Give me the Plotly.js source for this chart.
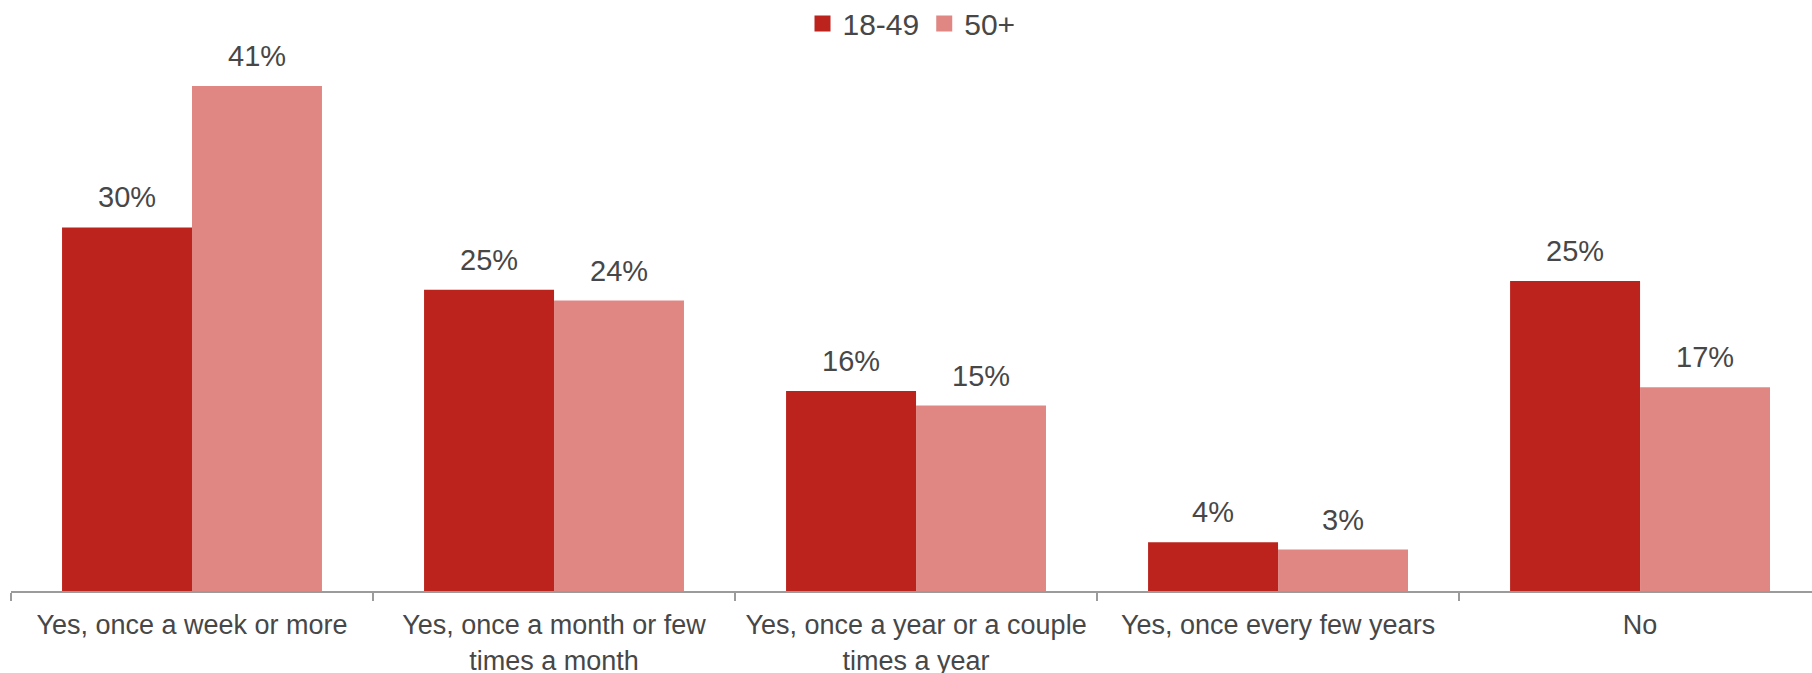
<!DOCTYPE html>
<html>
<head>
<meta charset="utf-8">
<script src="https://cdn.plot.ly/plotly-3.0.1.min.js"></script>
<style>html,body{margin:0;padding:0;background:#fff;}#chart{width:1812px;height:673px;}</style>
</head>
<body>
<div id="chart"></div>
<script>
const categories = [
  "Yes, once a week or more",
  "Yes, once a month or few<br>times a month",
  "Yes, once a year or a couple<br>times a year",
  "Yes, once every few years",
  "No"
];
const seriesNames = ["18-49", "50+"];
const values1849 = [29.8, 24.7, 16.4, 4.0, 25.4];
const values50plus = [41.4, 23.8, 15.2, 3.4, 16.7];

const colors = ["#BB231C", "#E08784"];
const textColor = "#474747";
const font = "Liberation Sans, Arial, sans-serif";
const seriesValues = [values1849, values50plus];

const traces = [];
seriesValues.forEach((vals, i) => {
  traces.push({
    type: "bar",
    x: categories,
    y: vals,
    name: seriesNames[i],
    marker: {color: colors[i], line: {width: 0}},
    showlegend: false,
    hoverinfo: "skip"
  });
});
seriesValues.forEach((vals, i) => {
  traces.push({
    type: "scatter",
    mode: "markers",
    x: [categories[0]],
    y: [null],
    name: seriesNames[i],
    marker: {color: colors[i], symbol: "square", size: 17},
    showlegend: true,
    hoverinfo: "skip"
  });
});

const annotations = [];
seriesValues.forEach((vals, i) => {
  vals.forEach((v, j) => {
    annotations.push({
      x: categories[j],
      y: v,
      xref: "x",
      yref: "y",
      text: Math.round(v) + "%",
      showarrow: false,
      yanchor: "bottom",
      xanchor: "center",
      xshift: i === 0 ? -65 : 65,
      yshift: 12,
      font: {family: font, size: 29, color: textColor}
    });
  });
});

const layout = {
  width: 1812,
  height: 673,
  margin: {l: 11, r: 0, t: 40, b: 82, pad: 0, autoexpand: false},
  paper_bgcolor: "#ffffff",
  plot_bgcolor: "#ffffff",
  barmode: "group",
  bargap: 0.282,
  bargroupgap: 0,
  font: {family: font, color: textColor},
  showlegend: true,
  legend: {
    orientation: "h",
    x: 0.5,
    xanchor: "center",
    yref: "container",
    y: 0.965,
    yanchor: "middle",
    font: {family: font, size: 30, color: textColor},
    itemclick: false,
    bgcolor: "rgba(0,0,0,0)"
  },
  xaxis: {
    type: "category",
    range: [-0.5, 4.475],
    showline: true,
    linecolor: "#9b9b9b",
    linewidth: 2,
    ticks: "outside",
    tickson: "boundaries",
    ticklen: 8,
    tickwidth: 2,
    tickcolor: "#9b9b9b",
    ticklabelstandoff: 9,
    showgrid: false,
    zeroline: false,
    automargin: false,
    tickfont: {family: font, size: 27, color: textColor},
    fixedrange: true
  },
  yaxis: {
    range: [0, 45.16],
    showgrid: false,
    zeroline: false,
    showticklabels: false,
    showline: false,
    automargin: false,
    fixedrange: true
  },
  annotations: annotations
};

Plotly.newPlot("chart", traces, layout, {displayModeBar: false, staticPlot: true});
</script>
</body>
</html>
